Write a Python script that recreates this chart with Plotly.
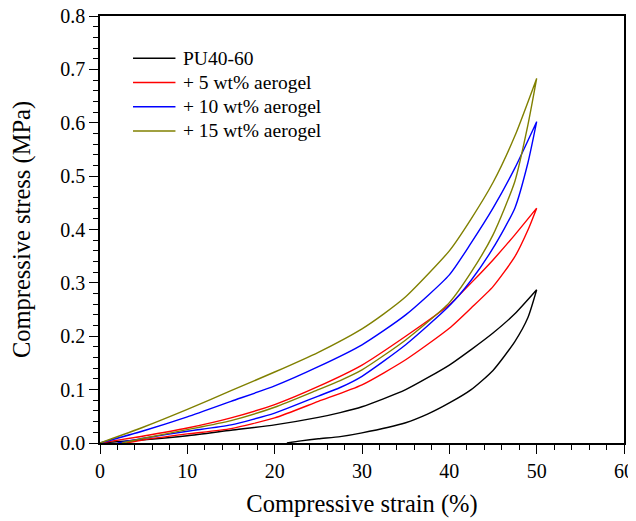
import plotly.graph_objects as go

# strain (%) / stress (MPa), loading then unloading
pu_load_x = [0, 5, 10, 15, 20, 25, 27.5, 30, 35, 40, 42.5, 45, 47.5, 50]
pu_load_y = [0, 0.006, 0.0137, 0.024, 0.034, 0.048, 0.057, 0.068, 0.1, 0.146, 0.175, 0.206, 0.242, 0.287]
pu_unload_x = [50, 49, 47.5, 45, 42.5, 40, 37.5, 35, 30, 27.5, 25, 23, 21.4]
pu_unload_y = [0.287, 0.235, 0.19, 0.136, 0.1, 0.075, 0.054, 0.038, 0.019, 0.012, 0.008, 0.004, 0]

a5_load_x = [0, 5, 10, 15, 20, 25, 30, 35, 40, 42.5, 45, 47.5, 50]
a5_load_y = [0, 0.013, 0.028, 0.047, 0.072, 0.106, 0.146, 0.2, 0.259, 0.3, 0.343, 0.39, 0.44]
a5_unload_x = [50, 49, 47.5, 45, 42.5, 40, 35, 30, 25, 20, 15, 10, 5, 3]
a5_unload_y = [0.44, 0.399, 0.349, 0.293, 0.253, 0.215, 0.156, 0.109, 0.078, 0.047, 0.027, 0.017, 0.006, 0]

a10_load_x = [0, 5, 10, 15, 20, 25, 30, 35, 40, 42.5, 45, 47.5, 50]
a10_load_y = [0, 0.023, 0.049, 0.078, 0.107, 0.143, 0.184, 0.24, 0.315, 0.375, 0.44, 0.515, 0.602]
a10_unload_x = [50, 49, 47.5, 45, 42.5, 40, 35, 30, 27.5, 25, 20, 15, 10, 5, 2]
a10_unload_y = [0.602, 0.525, 0.44, 0.365, 0.305, 0.257, 0.184, 0.125, 0.104, 0.088, 0.056, 0.034, 0.022, 0.009, 0]

a15_load_x = [0, 5, 10, 15, 20, 25, 30, 32.5, 35, 40, 42.5, 45, 47.5, 50]
a15_load_y = [0, 0.03, 0.063, 0.098, 0.133, 0.17, 0.214, 0.242, 0.274, 0.36, 0.42, 0.488, 0.575, 0.683]
a15_unload_x = [50, 49, 47.5, 45, 42.5, 40, 35, 30, 27.5, 25, 20, 15, 10, 5, 2.5]
a15_unload_y = [0.683, 0.596, 0.49, 0.39, 0.32, 0.263, 0.193, 0.137, 0.117, 0.1, 0.067, 0.042, 0.025, 0.009, 0]

names = ["PU40-60", "+ 5 wt% aerogel", "+ 10 wt% aerogel", "+ 15 wt% aerogel"]
colors = ["#000000", "#ff0000", "#0000ff", "#808000"]
curves = [
    (pu_load_x, pu_load_y, pu_unload_x, pu_unload_y),
    (a5_load_x, a5_load_y, a5_unload_x, a5_unload_y),
    (a10_load_x, a10_load_y, a10_unload_x, a10_unload_y),
    (a15_load_x, a15_load_y, a15_unload_x, a15_unload_y),
]

FONT = "Liberation Serif, Times New Roman, serif"

fig = go.Figure()

for name, color, (lx, ly, ux, uy) in zip(names, colors, curves):
    fig.add_trace(
        go.Scatter(
            x=lx + ux,
            y=ly + uy,
            mode="lines",
            name=name,
            showlegend=False,
            line=dict(color=color, width=1.4, shape="spline", smoothing=0.6),
        )
    )

# hand-drawn legend (line sample + label), in paper coordinates
legend_top = 0.901
row_step = 0.0567
for i, (name, color) in enumerate(zip(names, colors)):
    yy = legend_top - i * row_step
    fig.add_shape(
        type="line", xref="paper", yref="paper",
        x0=0.063, x1=0.144, y0=yy, y1=yy,
        line=dict(color=color, width=1.5),
    )
    fig.add_annotation(
        x=0.155, y=yy, xref="paper", yref="paper",
        text=name, showarrow=False, xanchor="left", yanchor="middle",
        font=dict(family=FONT, size=19.5, color="black"),
    )

axis_style = dict(
    showline=True,
    linecolor="black",
    linewidth=1.6,
    mirror=True,
    ticks="outside",
    ticklen=9,
    tickwidth=1.4,
    tickcolor="black",
    showgrid=False,
    zeroline=False,
    automargin=False,
    ticklabeloverflow="allow",
    tickfont=dict(family=FONT, size=20, color="black"),
    minor=dict(ticks="outside", ticklen=5, tickwidth=1.3, tickcolor="black"),
)

fig.update_xaxes(
    range=[0, 60],
    dtick=10,
    title=dict(text="Compressive strain (%)", font=dict(family=FONT, size=24.5, color="black"), standoff=14),
    **axis_style,
)
fig.update_yaxes(
    range=[0, 0.8],
    dtick=0.1,
    tickformat=".1f",
    title=dict(text="Compressive stress (MPa)", font=dict(family=FONT, size=24.5, color="black"), standoff=33),
    **axis_style,
)

# the page body adds an 8px offset, so margins are trimmed to keep the plot box in place
fig.update_layout(
    width=636,
    height=521,
    margin=dict(l=92, r=20, t=8, b=86),
    plot_bgcolor="white",
    paper_bgcolor="white",
    showlegend=False,
)

fig.write_html("out.html")
